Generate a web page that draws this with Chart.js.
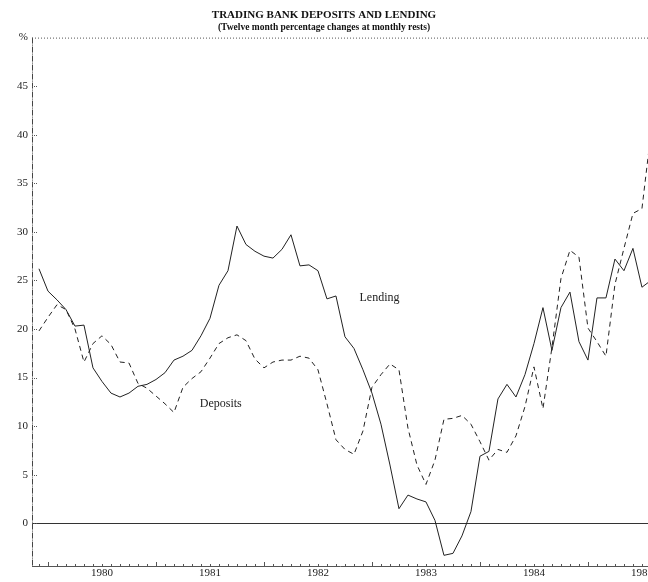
<!DOCTYPE html>
<html>
<head>
<meta charset="utf-8">
<script src="https://cdn.jsdelivr.net/npm/chart.js@4.4.0/dist/chart.umd.min.js"></script>
<style>
  html, body { margin: 0; padding: 0; background: #fff; }
</style>
</head>
<body>
<canvas id="chart" width="648" height="582"></canvas>
<script>
// monthly series, first month is Dec 1979
const startYear = 1979;
const startMonth = 11;

const lending = [
  26.2, 23.9, 23.0, 22.0, 20.3, 20.4, 16.0, 14.6, 13.4, 13.0,
  13.4, 14.1, 14.3, 14.8, 15.5, 16.8, 17.2, 17.8, 19.3, 21.1,
  24.5, 26.0, 30.6, 28.7, 28.0, 27.5, 27.3, 28.2, 29.7, 26.5,
  26.6, 26.0, 23.1, 23.4, 19.2, 18.0, 15.8, 13.4, 10.2, 6.0,
  1.5, 2.9, 2.5, 2.2, 0.3, -3.3, -3.1, -1.3, 1.2, 6.9,
  7.4, 12.8, 14.3, 13.0, 15.3, 18.5, 22.2, 17.8, 22.2, 23.8,
  18.7, 16.8, 23.2, 23.2, 27.2, 26.0, 28.3, 24.3, 25.0
];

const deposits = [
  19.8, 21.2, 22.5, 22.0, 20.0, 16.6, 18.5, 19.3, 18.4, 16.6,
  16.5, 14.4, 13.9, 13.1, 12.3, 11.4, 14.0, 14.9, 15.6, 17.0,
  18.5, 19.1, 19.4, 18.8, 16.9, 16.0, 16.6, 16.8, 16.8, 17.2,
  17.0, 15.8, 12.3, 8.6, 7.6, 7.1, 9.5, 14.0, 15.3, 16.4,
  15.8, 9.8, 6.0, 4.0, 6.5, 10.7, 10.8, 11.1, 10.2, 8.4,
  6.5, 7.6, 7.3, 9.0, 12.0, 16.1, 11.8, 18.1, 25.2, 28.1,
  27.4, 20.1, 18.7, 17.2, 24.6, 28.3, 31.9, 32.4, 40.2
];

const years = [1980, 1981, 1982, 1983, 1984, 1985];
const yTicks = [0, 5, 10, 15, 20, 25, 30, 35, 40, 45, 50];

// text placed next to the lines: [label, year position, value]
const notes = [
  ['Lending', 1983.07, 23.2],
  ['Deposits', 1981.6, 12.3]
];

const xMin = 1979.852, xMax = 1985.556;
const yMin = -4.4, yMax = 50;

const serif = '"Liberation Serif", "DejaVu Serif", serif';
Chart.defaults.font.family = serif;
Chart.defaults.color = '#222';

function toPoints(arr) {
  return arr.map((v, i) => ({ x: startYear + (startMonth + i) / 12, y: v }));
}

const frame = {
  id: 'frame',
  afterDraw(chart) {
    const { ctx, chartArea: a, scales: { x, y } } = chart;
    ctx.save();
    ctx.strokeStyle = '#444';
    ctx.lineWidth = 1;

    // broken left axis
    ctx.setLineDash([6, 1, 1, 1]);
    ctx.beginPath();
    ctx.moveTo(a.left + 0.5, a.top);
    ctx.lineTo(a.left + 0.5, a.bottom);
    ctx.stroke();

    // dotted top border
    ctx.strokeStyle = '#555';
    ctx.setLineDash([1, 2]);
    ctx.beginPath();
    ctx.moveTo(a.left, a.top + 0.5);
    ctx.lineTo(a.right, a.top + 0.5);
    ctx.stroke();

    // short inward ticks on the value axis
    ctx.setLineDash([1, 1]);
    yTicks.forEach(v => {
      if (v === 50) return;
      const py = Math.round(y.getPixelForValue(v)) + 0.5;
      ctx.beginPath();
      ctx.moveTo(a.left, py);
      ctx.lineTo(a.left + 5, py);
      ctx.stroke();
    });

    // monthly marks on the time axis
    ctx.setLineDash([]);
    for (let m = Math.ceil(xMin * 12); m / 12 <= xMax; m++) {
      const px = Math.round(x.getPixelForValue(m / 12)) + 0.5;
      const len = m % 12 === 0 ? 4 : 2;
      ctx.beginPath();
      ctx.moveTo(px, a.bottom);
      ctx.lineTo(px, a.bottom - len);
      ctx.stroke();
    }

    // line names
    ctx.fillStyle = '#222';
    ctx.font = '12px ' + serif;
    ctx.textAlign = 'center';
    ctx.textBaseline = 'middle';
    notes.forEach(n => {
      ctx.fillText(n[0], x.getPixelForValue(n[1]), y.getPixelForValue(n[2]));
    });
    ctx.restore();
  }
};

const ctx = document.getElementById('chart').getContext('2d');
new Chart(ctx, {
  type: 'line',
  data: {
    datasets: [
      {
        label: 'Lending',
        data: toPoints(lending),
        borderColor: '#222',
        borderWidth: 1,
        pointRadius: 0,
        tension: 0,
        fill: false
      },
      {
        label: 'Deposits',
        data: toPoints(deposits),
        borderColor: '#222',
        borderWidth: 1,
        borderDash: [5, 4],
        pointRadius: 0,
        tension: 0,
        fill: false
      }
    ]
  },
  options: {
    responsive: false,
    animation: false,
    layout: { padding: 0 },
    plugins: {
      legend: { display: false },
      tooltip: { enabled: false },
      title: {
        display: true,
        text: 'TRADING BANK DEPOSITS AND LENDING',
        font: { size: 11, weight: 'bold' },
        color: '#111',
        padding: { top: 9, bottom: 0 }
      },
      subtitle: {
        display: true,
        text: '(Twelve month percentage changes at monthly rests)',
        font: { size: 9.5, weight: 'bold' },
        color: '#111',
        padding: { top: 0, bottom: 4 }
      }
    },
    scales: {
      x: {
        type: 'linear',
        min: xMin,
        max: xMax,
        afterBuildTicks: s => { s.ticks = years.map(yr => ({ value: yr + 0.5 })); },
        afterFit: s => { s.height = 16; s.paddingLeft = 0; s.paddingRight = 0; },
        ticks: {
          autoSkip: false,
          maxRotation: 0,
          padding: 1,
          font: { size: 11 },
          callback: v => String(Math.floor(v))
        },
        grid: { display: false, drawTicks: false },
        border: { display: true, color: '#555', dash: [2, 2] }
      },
      y: {
        min: yMin,
        max: yMax,
        afterBuildTicks: s => { s.ticks = yTicks.map(v => ({ value: v })); },
        afterFit: s => { s.width = 32; },
        ticks: {
          padding: 4,
          font: { size: 11 },
          callback: v => (v === 50 ? '%' : v)
        },
        grid: {
          drawTicks: false,
          lineWidth: 1,
          color: c => (c.tick && c.tick.value === 0 ? '#333' : 'rgba(0,0,0,0)')
        },
        border: { display: false }
      }
    }
  },
  plugins: [frame]
});
</script>
</body>
</html>
